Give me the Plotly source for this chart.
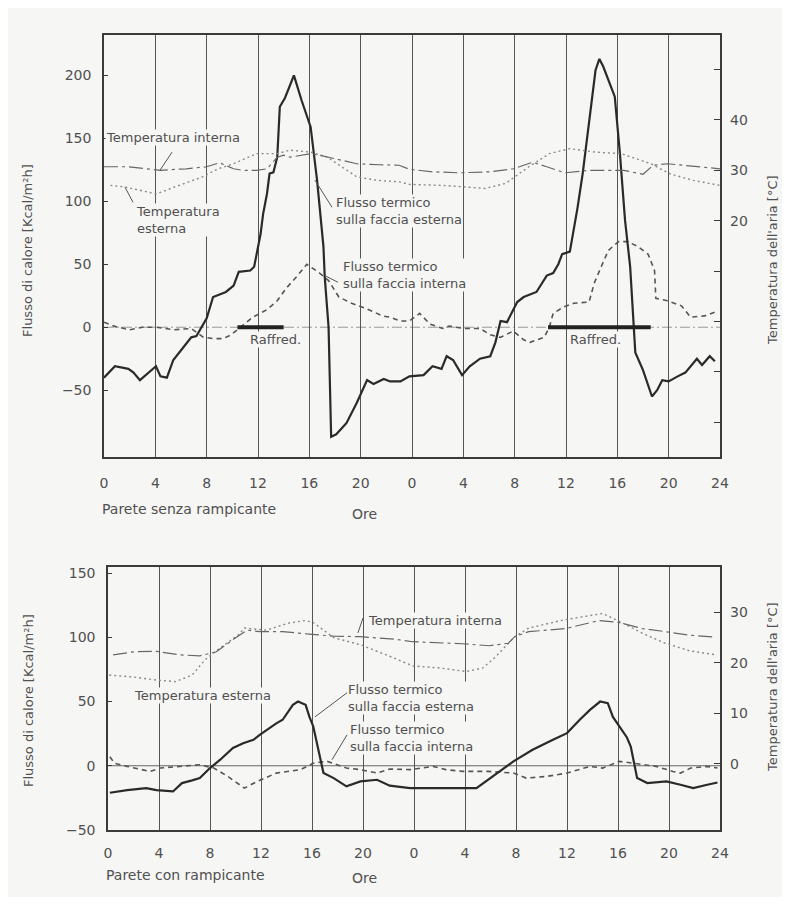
import plotly.graph_objects as go

# ------------------------------------------------------------------ data
hour_ticks = [0, 4, 8, 12, 16, 20, 24, 28, 32, 36, 40, 44, 48]
hour_labels = ["0", "4", "8", "12", "16", "20", "0", "4", "8", "12", "16", "20", "24"]

# --- Top panel: Parete senza rampicante
top_ext_flux_h = [0, 0.85, 1.9, 2.3, 2.8, 3.4, 4.05, 4.4, 4.9, 5.4, 6.4, 6.8, 7.2, 7.6, 8.0,
                  8.5, 9.0, 9.5, 10.1, 10.5, 11.4, 11.7, 12.2, 12.4, 12.7, 12.9, 13.2, 13.5,
                  13.7, 14.1, 14.8, 15.4, 16.1, 16.6, 17.1, 17.2, 17.5, 17.7, 18.1, 18.9,
                  19.7, 20.5, 21.0, 21.8, 22.3, 23.1, 23.8, 24.9, 25.6, 26.3, 26.7, 27.2,
                  27.9, 28.5, 29.3, 30.1, 30.5, 30.9, 31.4, 32.2, 32.7, 33.7, 34.5, 35.0,
                  35.4, 35.7, 36.3, 36.9, 37.3, 37.9, 38.3, 38.6, 38.9, 39.8, 40.2, 40.6,
                  41.0, 41.4, 42.0, 42.7, 43.1, 43.5, 44.0, 44.7, 45.3, 46.2, 46.6, 47.2, 47.6]
top_ext_flux = [-40, -31, -33, -36, -42, -37, -31, -39, -40, -26, -13, -8, -7, 0, 7,
                24, 26, 28, 33, 44, 45, 48, 74, 90, 106, 122, 123, 135,
                175, 182, 200, 180, 159, 117, 64, 40, 0, -87, -85, -76,
                -60, -42, -45, -41, -43, -43, -39, -38, -31, -33, -23, -26,
                -38, -31, -25, -23, -12, 5, 4, 20, 24, 28, 41, 43,
                50, 58, 60, 95, 122, 172, 204, 213, 207, 183, 138, 85,
                48, -20, -34, -55, -50, -42, -43, -39, -36, -25, -30, -23, -27]

top_int_flux_h = [0, 0.9, 2, 3, 4.1, 5.4, 6.8, 7.7, 8.5, 9.3, 9.9, 10.6, 11.6, 12.7, 13.5,
                  14.2, 15.0, 15.8, 16.8, 17.5, 18.3, 19.3, 20.4, 21.7, 22.3, 23.1, 23.8,
                  24.6, 25.4, 26.4, 26.9, 28.0, 29.3, 30.1, 30.9, 31.9, 32.7, 33.2, 34.3,
                  34.7, 35.0, 35.8, 36.6, 37.8, 38.2, 38.7, 39.3, 40.1, 40.8, 41.6, 42.4,
                  42.9, 43.0, 43.9, 45.0, 45.7, 46.8, 47.6]
top_int_flux = [4, 0.5, -2, 0, 0, -2, -1, -7.7, -9, -9, -6, 0, 8, 14, 21,
                31, 40, 50, 43, 37, 24, 19, 15, 9, 8, 5, 5,
                11, 2.5, -1, 1, -1, -1, -6, -8, -3, -10, -12, -8,
                0, 11, 16, 19, 20, 35, 47, 61, 68, 68, 64, 58,
                45, 23, 21, 17, 8, 9, 12]

top_int_temp_h = [0, 1.8, 4.4, 6.4, 8.0, 9.0, 10.1, 10.8, 11.9, 12.7, 13.5, 14.0, 14.5, 15.3,
                  16.1, 16.8, 17.9, 19.7, 21.5, 23.0, 23.8, 25.6, 27.7, 30.1, 31.9, 33.4,
                  34.5, 35.9, 37.9, 40.5, 42.0, 42.8, 43.9, 45.7, 48.0]
top_int_temp = [30.7, 30.7, 30.0, 30.3, 30.7, 31.5, 30.3, 30.0, 30.0, 30.3, 32.6, 33.0, 32.6, 33.0,
                33.3, 33.0, 32.3, 31.3, 31.1, 31.0, 30.2, 29.7, 29.5, 29.7, 30.3, 31.6,
                30.7, 29.5, 30.0, 30.0, 29.2, 31.0, 31.3, 30.8, 30.3]

top_ext_temp_h = [0.5, 1.6, 4.1, 5.4, 7.6, 8.9, 10.1, 11.9, 13.5, 14.5, 16.1, 17.4, 19.7, 21.3,
                  23.0, 23.8, 26.4, 29.7, 31.3, 33.1, 34.7, 36.3, 38.3, 40.3, 42.6, 44.1,
                  45.9, 48.0]
top_ext_temp = [27.0, 26.7, 25.3, 26.6, 28.6, 30.3, 31.3, 33.3, 33.3, 34.0, 33.6, 32.6, 28.7, 28.0,
                27.7, 27.2, 27.0, 26.4, 27.4, 30.7, 33.3, 34.3, 33.6, 33.3, 31.3, 29.3,
                28.0, 27.0]

top_cooling_start = [10.4, 34.6]
top_cooling_end = [14.0, 42.6]

# --- Bottom panel: Parete con rampicante
bot_ext_flux_h = [0.15, 1.5, 3.0, 3.8, 5.1, 5.8, 6.6, 7.2, 8.0, 8.8, 9.8, 10.6, 11.4, 11.9,
                  13.2, 13.7, 14.5, 14.9, 15.5, 15.8, 16.1, 16.5, 16.9, 17.7, 18.7, 19.8,
                  21.1, 22.1, 23.7, 26.0, 28.9, 31.8, 33.3, 34.9, 36.0, 37.0, 37.8, 38.6,
                  39.2, 39.6, 40.2, 40.7, 41.0, 41.2, 41.5, 42.3, 43.8, 44.9, 45.9, 47.0, 47.8]
bot_ext_flux = [-21, -19, -17.4, -19, -20, -13.5, -11.4, -9.6, -1.8, 4.7, 13.8, 17.6, 20.2, 24,
                33, 35.8, 47.4, 50, 47.4, 38, 30.6, 12.4, -5.7, -9.6, -16, -12.2,
                -10.9, -15.5, -17.4, -17.4, -17.4, 3.4, 12.4, 20.2, 25.4, 35.8, 43.5, 50,
                48.7, 38, 29, 22, 15, 6, -9.6, -13.5, -12.2, -14.8, -17.4, -14.8, -13]

bot_int_flux_h = [0.15, 0.5, 1.5, 2.5, 3.3, 4.1, 5.7, 7.2, 8.3, 9.4, 10.7, 11.7, 13.2, 15.1,
                  16.1, 17.2, 18.7, 19.8, 21.1, 22.1, 23.7, 25.5, 26.5, 27.8, 29.8, 31.8,
                  32.8, 34.4, 36.0, 37.8, 38.8, 40.1, 41.2, 43.0, 44.3, 44.9, 45.7, 47.0, 47.8]
bot_int_flux = [7, 2, -0.5, -3, -4.4, -1.8, -0.5, 0.8, -1.8, -8.3, -17.4, -12.2, -5.7, -3,
                2, 3.4, -1.8, -3, -5.7, -2.5, -3, -0.5, -3, -4.4, -4.4, -5.7,
                -9.6, -8.3, -5.7, -0.5, -1.8, 3.4, 2, -0.5, -4.4, -5.7, -1.8, -0.5, -1.8]

bot_int_temp_h = [0.4, 2.0, 3.8, 5.6, 7.2, 8.5, 9.8, 10.9, 11.9, 13.7, 15.8, 17.7, 19.8, 22.5,
                  23.9, 27.8, 29.9, 31.4, 31.9, 33.0, 35.9, 38.5, 40.1, 41.9, 43.7, 45.6, 47.7]
bot_int_temp = [21.6, 22.2, 22.3, 21.6, 21.4, 22.2, 24.6, 26.5, 26.2, 26.2, 25.7, 25.3, 25.2, 24.7,
                24.2, 23.8, 23.4, 23.9, 25.2, 26.2, 26.8, 28.4, 28.0, 26.8, 26.2, 25.5, 25.1]

bot_ext_temp_h = [0.1, 2.0, 3.8, 5.3, 6.6, 7.6, 8.6, 10.2, 10.7, 12.4, 14.2, 15.5, 16.1, 17.7,
                  19.8, 21.6, 22.5, 23.9, 26.0, 28.1, 29.4, 30.4, 31.9, 33.0, 35.7, 38.8,
                  40.3, 41.9, 43.7, 45.6, 47.7]
bot_ext_temp = [17.6, 17.2, 16.6, 16.3, 17.6, 20.6, 22.6, 25.5, 26.9, 26.5, 27.9, 28.4, 28.0, 25.0,
                23.6, 21.9, 20.9, 19.4, 19.0, 18.3, 19.0, 21.2, 25.2, 26.9, 28.5, 29.8,
                28.0, 25.9, 23.9, 22.4, 21.6]

# ------------------------------------------------------------------ styles
BG = "#f6f6f4"
INK = "#3a3a3a"
TXT = "#505050"
FONT = "DejaVu Sans"

ext_flux_line = dict(color="#2a2a2a", width=2.2)
int_flux_line = dict(color="#555555", width=1.6, dash="5px,4px")
int_temp_line = dict(color="#666666", width=1.2, dash="14px,4px,3px,4px")
ext_temp_line = dict(color="#8a8a8a", width=1.4, dash="2px,3px")

fig = go.Figure()


def add(x, y, xa, ya, line, name):
    fig.add_trace(go.Scatter(x=x, y=y, xaxis=xa, yaxis=ya, mode="lines",
                             line=line, name=name, hoverinfo="skip"))


# top panel
add(top_ext_temp_h, top_ext_temp, "x", "y2", ext_temp_line, "Temperatura esterna")
add(top_int_temp_h, top_int_temp, "x", "y2", int_temp_line, "Temperatura interna")
add(top_int_flux_h, top_int_flux, "x", "y", int_flux_line, "Flusso termico sulla faccia interna")
add(top_ext_flux_h, top_ext_flux, "x", "y", ext_flux_line, "Flusso termico sulla faccia esterna")
cool_x, cool_y = [], []
for s, e in zip(top_cooling_start, top_cooling_end):
    cool_x += [s, e, None]
    cool_y += [0, 0, None]
add(cool_x, cool_y, "x", "y", dict(color="#222222", width=4), "Raffred.")

# bottom panel
add(bot_ext_temp_h, bot_ext_temp, "x2", "y4", ext_temp_line, "Temperatura esterna")
add(bot_int_temp_h, bot_int_temp, "x2", "y4", int_temp_line, "Temperatura interna")
add(bot_int_flux_h, bot_int_flux, "x2", "y3", int_flux_line, "Flusso termico sulla faccia interna")
add(bot_ext_flux_h, bot_ext_flux, "x2", "y3", ext_flux_line, "Flusso termico sulla faccia esterna")

tickfont = dict(family=FONT, size=14, color=TXT)
xcommon = dict(range=[0, 48], tickvals=hour_ticks, ticktext=hour_labels, showgrid=True,
               gridcolor="#555555", gridwidth=1, showline=True, mirror=True, linecolor=INK,
               linewidth=1.5, ticks="", tickfont=tickfont, zeroline=False)
ycommon = dict(showgrid=False, zeroline=False, showline=True, mirror=True, linecolor=INK,
               linewidth=1.5, ticks="inside", ticklen=4, tickcolor=INK, tickfont=tickfont,
               ticklabelstandoff=8)
rcommon = dict(showgrid=False, zeroline=False, showline=False, ticks="inside", ticklen=6,
               tickcolor=INK, tickfont=tickfont, ticklabelstandoff=9, side="right")

# page has an 8px body margin: figure is 774x889 so the page stays 790x905
fig.update_layout(
    width=774, height=889, autosize=False,
    margin=dict(l=96, r=62, t=27, b=67),
    paper_bgcolor=BG, plot_bgcolor=BG, showlegend=False,
    font=dict(family=FONT, size=13, color=TXT),
    xaxis=dict(domain=[0, 1], anchor="y", ticklabelstandoff=12, **xcommon),
    yaxis=dict(domain=[0.4692, 1], anchor="x", range=[-103, 232],
               tickvals=[-50, 0, 50, 100, 150, 200], **ycommon),
    yaxis2=dict(overlaying="y", anchor="x", range=[-26.9, 56.85],
                tickvals=[-20, -10, 0, 10, 20, 30, 40, 50],
                ticktext=["", "", "", "", "20", "30", "40", ""], **rcommon),
    xaxis2=dict(domain=[0.0065, 1], anchor="y3", ticklabelstandoff=9, **xcommon),
    yaxis3=dict(domain=[0, 0.3308], anchor="x2", range=[-50, 154.7],
                tickvals=[-50, 0, 50, 100, 150], **ycommon),
    yaxis4=dict(overlaying="y3", anchor="x2", range=[-13.1, 39.0],
                tickvals=[0, 10, 20, 30], **rcommon),
)

# zero reference lines
fig.add_shape(type="line", xref="x domain", yref="y", x0=0, x1=1, y0=0, y1=0,
              line=dict(color="#9a9a9a", width=1, dash="10px,3px,2px,3px"), layer="below")
fig.add_shape(type="line", xref="x2 domain", yref="y3", x0=0, x1=1, y0=0, y1=0,
              line=dict(color="#666666", width=1), layer="below")

# leader lines
leaders = [
    ("x", "y", 5.3, 139, 4.36, 124.6),
    ("x", "y", 2.26, 99.2, 1.64, 111.1),
    ("x", "y", 17.77, 95.2, 16.44, 116.7),
    ("x", "y", 18.23, 35.7, 17.3, 40.5),
    ("x2", "y3", 20.0, 115, 19.6, 103.4),
    ("x2", "y3", 18.75, 56.8, 16.24, 38.1),
    ("x2", "y3", 18.75, 24.1, 17.57, 4.7),
]
for xr, yr, x0, y0, x1, y1 in leaders:
    fig.add_shape(type="line", xref=xr, yref=yr, x0=x0, y0=y0, x1=x1, y1=y1,
                  line=dict(color="#555555", width=1))


def note(text, x, y, xr, yr, xanchor="left", size=13):
    fig.add_annotation(text=text, x=x, y=y, xref=xr, yref=yr, xanchor=xanchor,
                       yanchor="middle", align="left", showarrow=False, bgcolor=BG,
                       borderpad=0, font=dict(family=FONT, size=size, color=TXT))


note("Temperatura interna", 0.1, 151, "x", "y")
note("Temperatura<br>esterna", 2.4, 85.3, "x", "y")
note("Flusso termico<br>sulla faccia esterna", 18.0, 92, "x", "y")
note("Flusso termico<br>sulla faccia interna", 18.55, 41.7, "x", "y")
note("Raffred.", 13.4, -9.5, "x", "y", xanchor="center")
note("Raffred.", 38.26, -9.5, "x", "y", xanchor="center")

note("Temperatura interna", 20.3, 112.8, "x2", "y3")
note("Temperatura esterna", 1.96, 54.4, "x2", "y3")
note("Flusso termico<br>sulla faccia esterna", 18.75, 52.9, "x2", "y3")
note("Flusso termico<br>sulla faccia interna", 18.9, 21.8, "x2", "y3")

note("Parete senza rampicante", -0.005, 0.4038, "paper", "paper", size=14)
note("Ore", 0.4237, 0.3975, "paper", "paper", xanchor="center", size=14)
note("Parete con rampicante", 0.0016, -0.0566, "paper", "paper", size=14)
note("Ore", 0.4237, -0.0604, "paper", "paper", xanchor="center", size=14)

for y in (0.7296, 0.1635):
    fig.add_annotation(text="Flusso di calore [Kcal/m²h]", x=-0.1234, y=y, xref="paper",
                       yref="paper", textangle=-90, showarrow=False, xanchor="center",
                       yanchor="middle", font=dict(family=FONT, size=13, color=TXT))
for y in (0.717, 0.18):
    fig.add_annotation(text="Temperatura dell'aria [°C]", x=1.086, y=y, xref="paper",
                       yref="paper", textangle=-90, showarrow=False, xanchor="center",
                       yanchor="middle", font=dict(family=FONT, size=13, color=TXT))

fig.write_html("out.html")
